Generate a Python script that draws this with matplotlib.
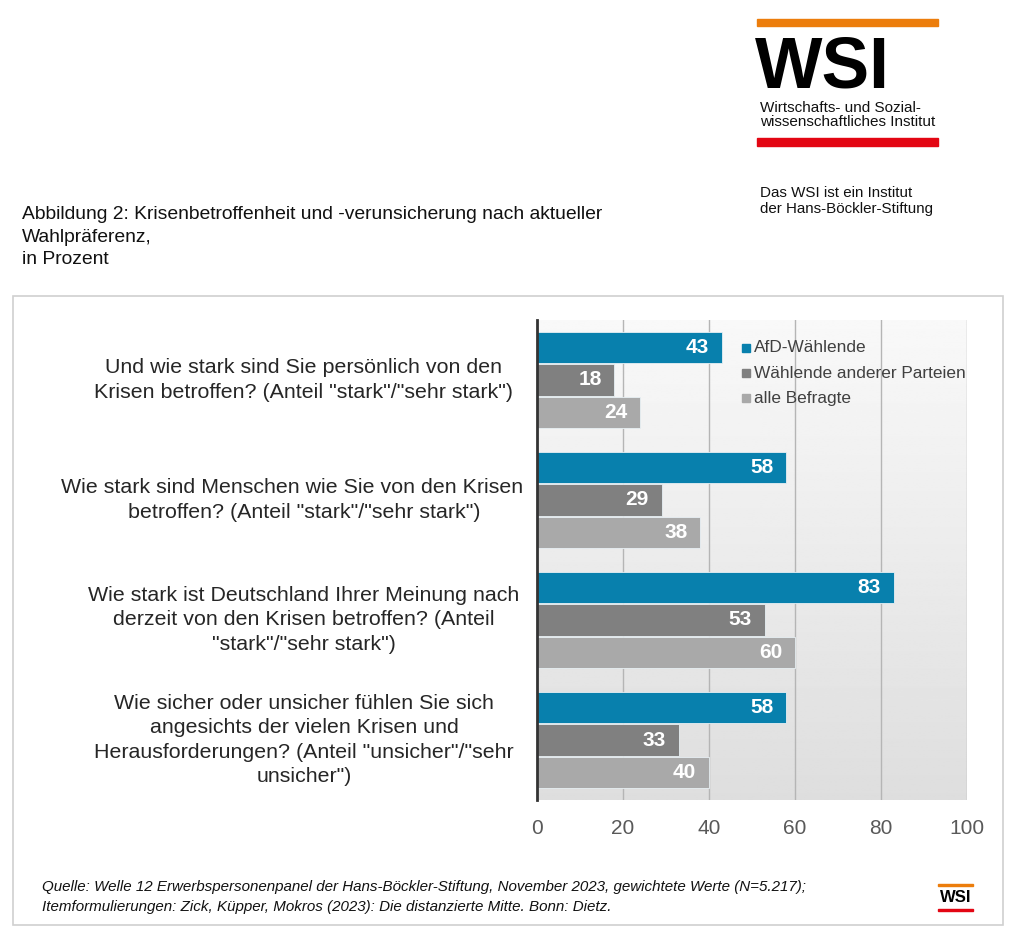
import numpy as np
import matplotlib.pyplot as plt
from matplotlib.patches import Rectangle

plt.rcParams['font.family'] = ['Liberation Sans', 'DejaVu Sans']

# Data
questions = [
    'Und wie stark sind Sie persönlich von den\nKrisen betroffen? (Anteil "stark"/"sehr stark")',
    'Wie stark sind Menschen wie Sie von den Krisen    \nbetroffen? (Anteil "stark"/"sehr stark")',
    'Wie stark ist Deutschland Ihrer Meinung nach\nderzeit von den Krisen betroffen? (Anteil\n"stark"/"sehr stark")',
    'Wie sicher oder unsicher fühlen Sie sich\nangesichts der vielen Krisen und\nHerausforderungen? (Anteil "unsicher"/"sehr\nunsicher")',
]
series_names = ['AfD-Wählende', 'Wählende anderer Parteien', 'alle Befragte']
afd = [43, 58, 83, 58]
andere = [18, 29, 53, 33]
alle = [24, 38, 60, 40]
xticks = [0, 20, 40, 60, 80, 100]

colors = ['#0880ad', '#808080', '#a9a9a9']

fig = plt.figure(figsize=(10.24, 9.5), dpi=100)

# outer frame of the chart box
fig.patches.append(Rectangle((13 / 1024, 1 - 925 / 950), 990 / 1024, 629 / 950,
                             transform=fig.transFigure, fill=False,
                             edgecolor='#d0d0d0', linewidth=1.2))

ax = fig.add_axes([537 / 1024, 1 - 800 / 950, 430 / 1024, 480 / 950])

# gradient background
grad = np.linspace(0.975, 0.87, 256).reshape(-1, 1)
ax.imshow(grad, cmap='gray', vmin=0, vmax=1, aspect='auto',
          extent=[0, 100, 3.5, -0.5], zorder=0)

ax.set_xlim(0, 100)
ax.set_ylim(3.5, -0.5)

for x in xticks[1:]:
    ax.axvline(x, color='#b5b5b5', linewidth=1, zorder=1)

y = np.arange(len(questions))
off = 0.272
h = 0.26
for vals, c, d in zip([afd, andere, alle], colors, [-off, 0, off]):
    ax.barh(y + d, vals, height=h, color=c, edgecolor='#e8f0f4',
            linewidth=0.6, zorder=2)
    for yy, v in zip(y + d, vals):
        ax.text(v - 3.0, yy, str(v), ha='right', va='center', color='white',
                fontsize=15, fontweight='bold', zorder=3)

ax.set_yticks([])
ax.set_xticks(xticks)
ax.set_xticklabels([str(t) for t in xticks], fontsize=15, color='#595959')
ax.tick_params(axis='x', length=0, pad=14)
for s in ['top', 'right', 'bottom']:
    ax.spines[s].set_visible(False)
ax.spines['left'].set_color('#333333')
ax.spines['left'].set_linewidth(2)
ax.spines['left'].set_zorder(4)

# category labels
for yy, q in zip(y, questions):
    ax.text(-54.2, yy, q, ha='center', va='center', fontsize=15.4, color='#262626',
            linespacing=1.35, clip_on=False)

# legend
for i, (name, c) in enumerate(zip(series_names, colors)):
    ly = 348 + i * 25
    fig.patches.append(Rectangle((742 / 1024, 1 - (ly + 4) / 950), 8 / 1024, 8 / 950,
                                 transform=fig.transFigure, color=c))
    fig.text(754 / 1024, 1 - ly / 950, name, fontsize=12.4, color='#404040',
             va='center', ha='left')

# title
fig.text(22 / 1024, 1 - 237 / 950,
         'Abbildung 2: Krisenbetroffenheit und -verunsicherung nach aktueller\n'
         'Wahlpräferenz,\nin Prozent',
         fontsize=13.9, va='center', ha='left', linespacing=1.45, color='#111111')

# WSI logo top right
fig.patches.append(Rectangle((757 / 1024, 1 - 26 / 950), 181 / 1024, 7 / 950,
                             transform=fig.transFigure, color='#ec7d0c'))
fig.text(755 / 1024, 1 - 88 / 950, 'WSI', fontsize=51.5, fontweight='bold',
         color='#000000', ha='left', va='baseline')
fig.text(760 / 1024, 1 - 115 / 950, 'Wirtschafts- und Sozial-\nwissenschaftliches Institut',
         fontsize=11, color='#111111', ha='left', va='center', linespacing=1.05)
fig.patches.append(Rectangle((757 / 1024, 1 - 146 / 950), 181 / 1024, 8 / 950,
                             transform=fig.transFigure, color='#e30613'))
fig.text(760 / 1024, 1 - 201 / 950, 'Das WSI ist ein Institut\nder Hans-Böckler-Stiftung',
         fontsize=10.9, color='#111111', ha='left', va='center', linespacing=1.2)

# footer
fig.text(42 / 1024, 1 - 897 / 950,
         'Quelle: Welle 12 Erwerbspersonenpanel der Hans-Böckler-Stiftung, November 2023, gewichtete Werte (N=5.217);\n'
         'Itemformulierungen: Zick, Küpper, Mokros (2023): Die distanzierte Mitte. Bonn: Dietz.',
         fontsize=10.9, style='italic', color='#111111', ha='left', va='center',
         linespacing=1.6)

# small WSI logo bottom right
fig.patches.append(Rectangle((938 / 1024, 1 - 886 / 950), 35 / 1024, 2.5 / 950,
                             transform=fig.transFigure, color='#ec7d0c'))
fig.text(955.5 / 1024, 1 - 898 / 950, 'WSI', fontsize=12, fontweight='bold',
         color='#000000', ha='center', va='center')
fig.patches.append(Rectangle((938 / 1024, 1 - 911 / 950), 35 / 1024, 2.5 / 950,
                             transform=fig.transFigure, color='#e30613'))

fig.savefig('out.png', dpi=100, facecolor='white')
